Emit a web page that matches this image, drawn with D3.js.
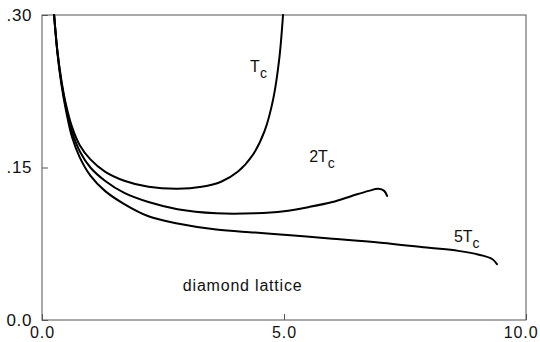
<!DOCTYPE html>
<html>
<head>
<meta charset="utf-8">
<script src="https://cdn.jsdelivr.net/npm/d3@7"></script>
<style>
  html, body { margin: 0; padding: 0; background: #fff; }
  svg { display: block; font-family: "Liberation Sans", Arial, Helvetica, sans-serif; }
</style>
</head>
<body>
<svg id="chart" width="540" height="342"></svg>
<script>
// Curves at three temperatures (T_c, 2T_c, 5T_c)
const tcX  = [0.25, 0.32, 0.40, 0.50, 0.62, 0.78, 1.00, 1.30, 1.70, 2.20, 2.80, 3.30, 3.70, 4.05, 4.35, 4.60, 4.78, 4.90, 4.98];
const tcY  = [0.300, 0.264, 0.236, 0.211, 0.190, 0.172, 0.158, 0.146, 0.137, 0.131, 0.129, 0.131, 0.136, 0.146, 0.162, 0.186, 0.218, 0.256, 0.300];

const tc2X = [0.25, 0.32, 0.40, 0.50, 0.62, 0.78, 1.00, 1.30, 1.70, 2.20, 2.80, 3.60, 4.40, 5.00, 5.50, 6.00, 6.40, 6.75, 6.95, 7.07, 7.13];
const tc2Y = [0.300, 0.263, 0.234, 0.208, 0.185, 0.166, 0.150, 0.137, 0.125, 0.116, 0.109, 0.105, 0.105, 0.107, 0.111, 0.116, 0.122, 0.127, 0.129, 0.127, 0.122];

const tc5X = [0.25, 0.32, 0.40, 0.50, 0.62, 0.78, 1.00, 1.30, 1.70, 2.20, 2.80, 3.60, 4.40, 5.20, 6.00, 7.00, 8.00, 8.60, 9.05, 9.30, 9.40];
const tc5Y = [0.300, 0.262, 0.232, 0.205, 0.180, 0.160, 0.142, 0.127, 0.114, 0.102, 0.095, 0.089, 0.086, 0.083, 0.080, 0.076, 0.071, 0.068, 0.064, 0.060, 0.055];

const xTicks = [0, 5, 10];
const xTickLabels = ["0.0", "5.0", "10.0"];
const yTicks = [0, 0.15, 0.30];
const yTickLabels = ["0.0", ".15", ".30"];

const seriesNames = ["T", "2T", "5T"];
const caption = "diamond lattice";

const svg = d3.select("#chart");
const margin = { left: 42, right: 14, top: 15, bottom: 22 };
const W = 540, H = 342;

const x = d3.scaleLinear().domain([0, 10]).range([margin.left, W - margin.right]);
const y = d3.scaleLinear().domain([0, 0.30]).range([H - margin.bottom, margin.top]);

const frameColor = "#555";
const fontFamily = "\"Liberation Sans\", Arial, sans-serif";

// Frame
svg.append("rect")
  .attr("x", x(0)).attr("y", y(0.30))
  .attr("width", x(10) - x(0)).attr("height", y(0) - y(0.30))
  .attr("fill", "none").attr("stroke", frameColor).attr("stroke-width", 1);

// Axes with inward ticks
const xAxis = d3.axisBottom(x).tickValues(xTicks)
  .tickFormat((d, i) => xTickLabels[i]).tickSizeInner(-6).tickSizeOuter(0).tickPadding(7);
const gx = svg.append("g").attr("transform", `translate(0,${y(0)})`).call(xAxis);
gx.select(".domain").remove();
gx.selectAll("line").attr("stroke", frameColor);
gx.selectAll("text").attr("font-size", 16).attr("fill", "#111")
  .attr("letter-spacing", 0.9).attr("font-family", fontFamily);
// keep the last label inside the window
gx.selectAll(".tick").filter(d => d === 10).select("text")
  .attr("text-anchor", "end").attr("dx", 12);

const yAxis = d3.axisLeft(y).tickValues(yTicks)
  .tickFormat((d, i) => yTickLabels[i]).tickSizeInner(-6).tickSizeOuter(0).tickPadding(10);
const gy = svg.append("g").attr("transform", `translate(${x(0)},0)`).call(yAxis);
gy.select(".domain").remove();
gy.selectAll("line").attr("stroke", frameColor);
gy.selectAll("text").attr("font-size", 17).attr("fill", "#111")
  .attr("letter-spacing", 0.6).attr("font-family", fontFamily);

// Curves
const line = d3.line().x(d => x(d[0])).y(d => y(d[1])).curve(d3.curveCatmullRom.alpha(0.5));
const series = [
  d3.zip(tcX, tcY),
  d3.zip(tc2X, tc2Y),
  d3.zip(tc5X, tc5Y)
];
svg.append("g").selectAll("path").data(series).join("path")
  .attr("d", line)
  .attr("fill", "none")
  .attr("stroke", "#000")
  .attr("stroke-width", 2)
  .attr("stroke-linejoin", "round")
  .attr("stroke-linecap", "round");

// Curve labels: T with subscript c
const labelPos = [
  { x: 4.30, y: 0.244 },
  { x: 5.52, y: 0.155 },
  { x: 8.51, y: 0.077 }
];
labelPos.forEach((p, i) => {
  const t = svg.append("text")
    .attr("x", x(p.x)).attr("y", y(p.y))
    .attr("font-size", 16).attr("fill", "#111");
  t.append("tspan").text(seriesNames[i]);
  t.append("tspan").attr("dy", 6).attr("font-size", 14).text("c");
});

// Caption
svg.append("text")
  .attr("x", x(2.91)).attr("y", y(0.029))
  .attr("font-size", 16).attr("letter-spacing", 0.8).attr("fill", "#111")
  .text(caption);
</script>
</body>
</html>
